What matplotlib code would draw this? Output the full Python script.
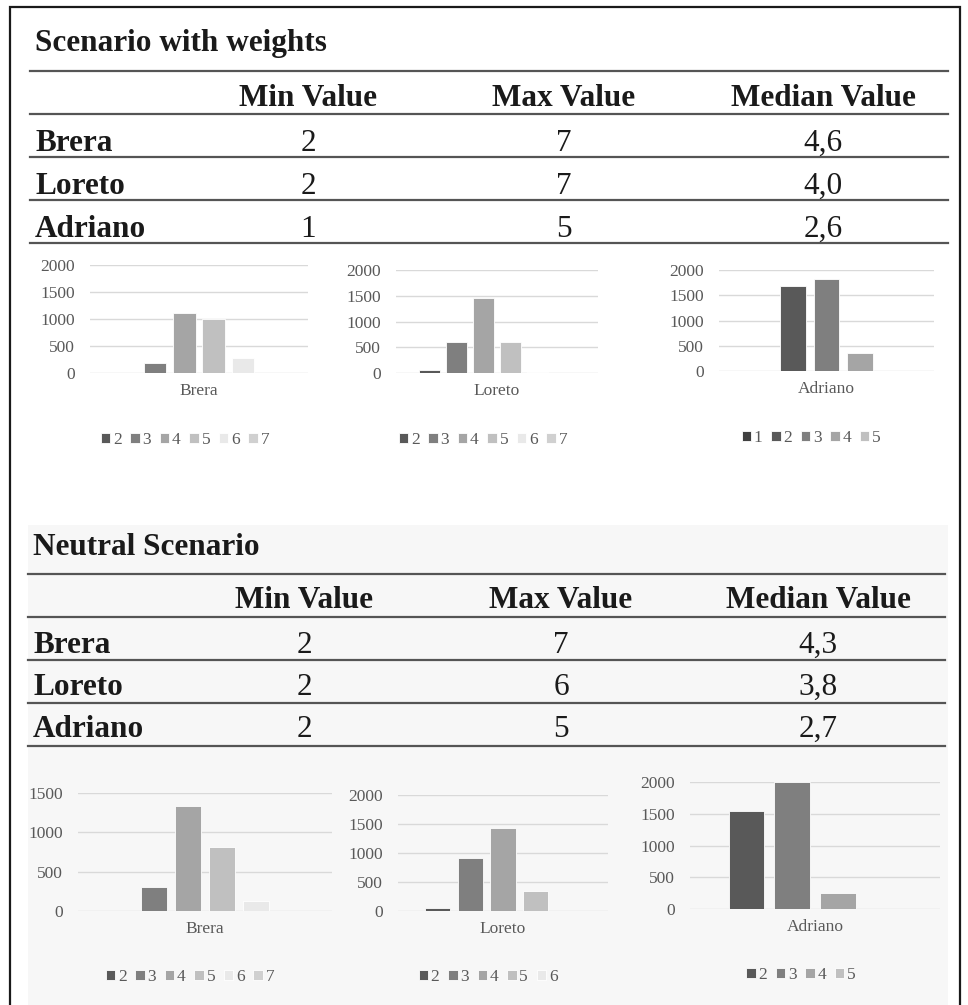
import matplotlib
matplotlib.use('Agg')
import matplotlib.pyplot as plt
from matplotlib.patches import Rectangle

plt.rcParams['font.family'] = ['Liberation Serif', 'DejaVu Serif']

# --- table data ---
zones = ['Brera', 'Loreto', 'Adriano']
table_cols = ['Min Value', 'Max Value', 'Median Value']
weighted_min = [2, 2, 1]
weighted_max = [7, 7, 5]
weighted_median = [4.6, 4.0, 2.6]
neutral_min = [2, 2, 2]
neutral_max = [7, 6, 5]
neutral_median = [4.3, 3.8, 2.7]

# --- histogram data (counts per score) ---
w_brera_levels = [2, 3, 4, 5, 6, 7]
w_brera_counts = [4, 185, 1110, 1010, 275, 3]
w_loreto_levels = [2, 3, 4, 5, 6, 7]
w_loreto_counts = [50, 605, 1450, 605, 25, 3]
w_adriano_levels = [1, 2, 3, 4, 5]
w_adriano_counts = [3, 1680, 1825, 360, 3]

n_brera_levels = [2, 3, 4, 5, 6, 7]
n_brera_counts = [4, 310, 1340, 815, 130, 3]
n_loreto_levels = [2, 3, 4, 5, 6]
n_loreto_counts = [55, 920, 1440, 340, 8]
n_adriano_levels = [2, 3, 4, 5]
n_adriano_counts = [1540, 2000, 258, 3]

level_colors = {1: '#404040', 2: '#595959', 3: '#7f7f7f', 4: '#a5a5a5',
                5: '#c0c0c0', 6: '#e9e9e9', 7: '#d0d0d0'}

W, H = 968, 1005
fig = plt.figure(figsize=(W / 100, H / 100), dpi=100)
bg = fig.add_axes([0, 0, 1, 1])
bg.set_xlim(0, W)
bg.set_ylim(H, 0)
bg.axis('off')

# shaded block behind the neutral scenario + page frame
bg.add_patch(Rectangle((28, 525), 920, 500, facecolor='#f7f7f7', edgecolor='none'))
bg.plot([10, 10, 960, 960], [1020, 7, 7, 1020], color='#1a1a1a', lw=1.6,
        solid_joinstyle='miter')

TXT = '#1a1a1a'
FS = 22.5


def draw_table(title, title_base, line_ys, header_base, row_bases, x0, x1,
               col_xs, mins, maxs, medians):
    bg.text(x0 + 5, title_base, title, fontsize=FS, fontweight='bold',
            color=TXT, va='baseline')
    for y in line_ys:
        bg.plot([x0, x1], [y, y], color='#555555', lw=1.6)
    for cx, col in zip(col_xs, table_cols):
        bg.text(cx, header_base, col, fontsize=FS, fontweight='bold',
                color=TXT, ha='center', va='baseline')
    for yb, zone, mn, mx, md in zip(row_bases, zones, mins, maxs, medians):
        bg.text(x0 + 5, yb, zone, fontsize=FS, fontweight='bold',
                color=TXT, va='baseline')
        vals = [str(mn), str(mx), f'{md:.1f}'.replace('.', ',')]
        for cx, v in zip(col_xs, vals):
            bg.text(cx, yb, v, fontsize=FS, color=TXT, ha='center',
                    va='baseline')


draw_table('Scenario with weights', 51, [71, 114, 157, 200, 243], 106,
           [151, 194, 237], 30, 948, [308, 564, 823],
           weighted_min, weighted_max, weighted_median)
draw_table('Neutral Scenario', 555, [574, 617, 660, 703, 746], 608,
           [653, 695, 737], 28, 945, [304, 561, 818],
           neutral_min, neutral_max, neutral_median)

GRAY = '#595959'
CFS = 12.5


def draw_bars(rect_px, levels, counts, ymax, name, legend_xy):
    x0, x1, y0, ytop = rect_px
    ax = fig.add_axes([x0 / W, 1 - y0 / H, (x1 - x0) / W, (y0 - ytop) / H])
    ax.set_facecolor('none')
    n = len(levels)
    handles = []
    for i, (lv, c) in enumerate(zip(levels, counts)):
        b = ax.bar(i, c, width=0.77, color=level_colors[lv],
                   edgecolor='white', linewidth=0.6, zorder=3)
        handles.append(b[0])
    ax.set_xlim(-1.23, n - 1 + 1.23)
    ax.set_ylim(0, ymax * 1.002)
    ax.set_yticks(range(0, ymax + 1, 500))
    ax.grid(axis='y', color='#d9d9d9', lw=1)
    ax.set_axisbelow(True)
    for s in ax.spines.values():
        s.set_visible(False)
    ax.set_xticks([(n - 1) / 2])
    ax.set_xticklabels([name])
    ax.tick_params(axis='y', length=0, colors=GRAY, labelsize=CFS, pad=11)
    ax.tick_params(axis='x', length=0, colors=GRAY, labelsize=CFS, pad=7)
    fig.legend(handles, [str(lv) for lv in levels], loc='center',
               bbox_to_anchor=(legend_xy[0] / W, 1 - legend_xy[1] / H),
               ncol=n, frameon=False, fontsize=CFS, labelcolor=GRAY,
               handlelength=0.55, handleheight=0.55, handletextpad=0.15,
               columnspacing=0.5, borderpad=0)
    return ax


draw_bars((90, 308, 373, 265), w_brera_levels, w_brera_counts, 2000,
          'Brera', (185, 440))
draw_bars((396, 598, 373, 270), w_loreto_levels, w_loreto_counts, 2000,
          'Loreto', (483, 440))
draw_bars((719, 934, 371, 270), w_adriano_levels, w_adriano_counts, 2000,
          'Adriano', (811, 438))
draw_bars((78, 332, 911, 793), n_brera_levels, n_brera_counts, 1500,
          'Brera', (190, 977))
draw_bars((398, 608, 911, 795), n_loreto_levels, n_loreto_counts, 2000,
          'Loreto', (488, 977))
draw_bars((690, 940, 909, 782), n_adriano_levels, n_adriano_counts, 2000,
          'Adriano', (801, 975))

fig.savefig('out.png', dpi=100, facecolor='white')
